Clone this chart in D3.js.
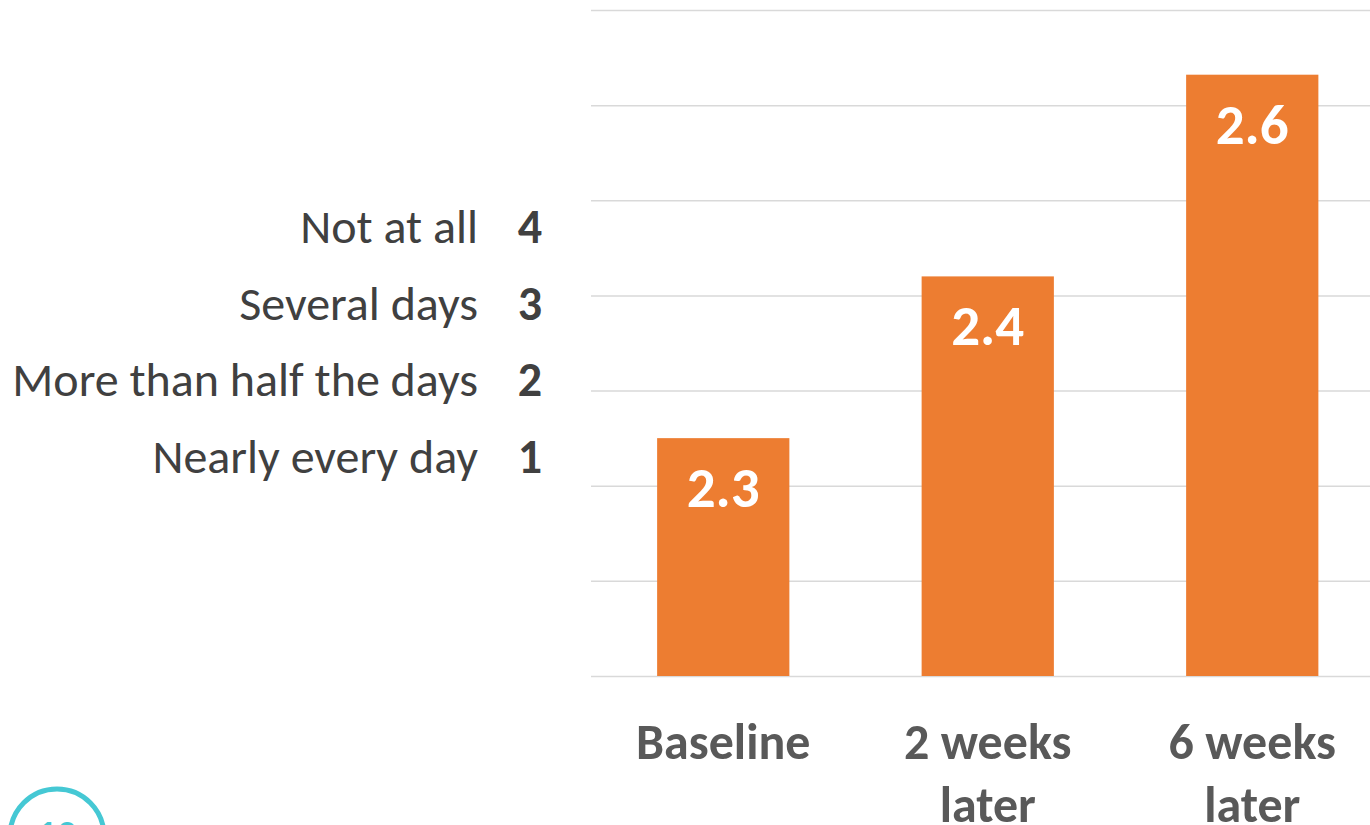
<!DOCTYPE html>
<html>
<head>
<meta charset="utf-8">
<script src="https://cdn.jsdelivr.net/npm/d3@7"></script>
<style>
  html, body { margin: 0; padding: 0; background: #fff; overflow: hidden; }
  svg { display: block; font-family: Carlito, "Open Sans", "Noto Sans", sans-serif; }
</style>
</head>
<body>
<svg id="chart" width="1370" height="825"></svg>
<script>
// categories and values
const categories = ["Baseline", "2 weeks later", "6 weeks later"]
const category_lines = [["Baseline"], ["2 weeks", "later"], ["6 weeks", "later"]]
const values = [2.25, 2.42, 2.632]
const value_labels = ["2.3", "2.4", "2.6"]
const y_ticks = [2.0, 2.1, 2.2, 2.3, 2.4, 2.5, 2.6, 2.7]

// answer key on the left
const key_labels = ["Not at all", "Several days", "More than half the days", "Nearly every day"]
const key_scores = [4, 3, 2, 1]

const page_number = "10"

let svg = d3.select('#chart')

let x = d3.scaleBand()
    .domain(categories)
    .range([591, 1384.5])
    .paddingInner(0.5)
    .paddingOuter(0.25)

let y = d3.scaleLinear()
    .domain([2.0, 2.7])
    .range([676, 10])

// GRIDLINES
svg.append('g')
    .selectAll('line')
    .data(y_ticks)
    .enter()
    .append('line')
    .attr('x1', 591)
    .attr('x2', 1370)
    .attr('y1', d => y(d) + 0.5)
    .attr('y2', d => y(d) + 0.5)
    .attr('stroke', '#d9d9d9')
    .attr('stroke-width', 1.5)

// BARS
svg.append('g')
    .selectAll('rect')
    .data(values)
    .enter()
    .append('rect')
    .attr('x', (d, i) => x(categories[i]))
    .attr('y', d => y(d))
    .attr('width', x.bandwidth())
    .attr('height', d => y(2.0) - y(d))
    .attr('fill', '#ed7d31')

// VALUE LABELS
svg.append('g')
    .selectAll('text')
    .data(values)
    .enter()
    .append('text')
    .attr('x', (d, i) => x(categories[i]) + x.bandwidth() / 2)
    .attr('y', d => y(d) + 69)
    .attr('text-anchor', 'middle')
    .attr('fill', '#ffffff')
    .attr('font-size', 57)
    .attr('font-weight', 'bold')
    .text((d, i) => value_labels[i])

// X AXIS LABELS
let xlabels = svg.append('g')
    .selectAll('text')
    .data(categories)
    .enter()
    .append('text')
    .attr('text-anchor', 'middle')
    .attr('fill', '#595959')
    .attr('font-size', 50)
    .attr('font-weight', 'bold')

xlabels.selectAll('tspan')
    .data((d, i) => category_lines[i].map(line => ({line: line, cat: d})))
    .enter()
    .append('tspan')
    .attr('x', d => x(d.cat) + x.bandwidth() / 2)
    .attr('y', (d, j) => 759 + j * 63)
    .text(d => d.line)

// KEY
let key = svg.append('g')
key.selectAll('.key-label')
    .data(key_labels)
    .enter()
    .append('text')
    .classed('key-label', true)
    .attr('x', 478)
    .attr('y', (d, i) => 243 + i * 76.7)
    .attr('text-anchor', 'end')
    .attr('fill', '#404040')
    .attr('font-size', 48)
    .text(d => d)

key.selectAll('.key-score')
    .data(key_scores)
    .enter()
    .append('text')
    .classed('key-score', true)
    .attr('x', 530)
    .attr('y', (d, i) => 243 + i * 76.7)
    .attr('text-anchor', 'middle')
    .attr('fill', '#404040')
    .attr('font-size', 48)
    .attr('font-weight', 'bold')
    .text(d => d)

// PAGE NUMBER BADGE
svg.append('circle')
    .attr('cx', 57)
    .attr('cy', 836)
    .attr('r', 47)
    .attr('fill', 'none')
    .attr('stroke', '#45c8d4')
    .attr('stroke-width', 5)

svg.append('text')
    .attr('x', 57)
    .attr('y', 848)
    .attr('text-anchor', 'middle')
    .attr('fill', '#45c8d4')
    .attr('font-size', 40)
    .attr('font-weight', 'bold')
    .text(page_number)
</script>
</body>
</html>
